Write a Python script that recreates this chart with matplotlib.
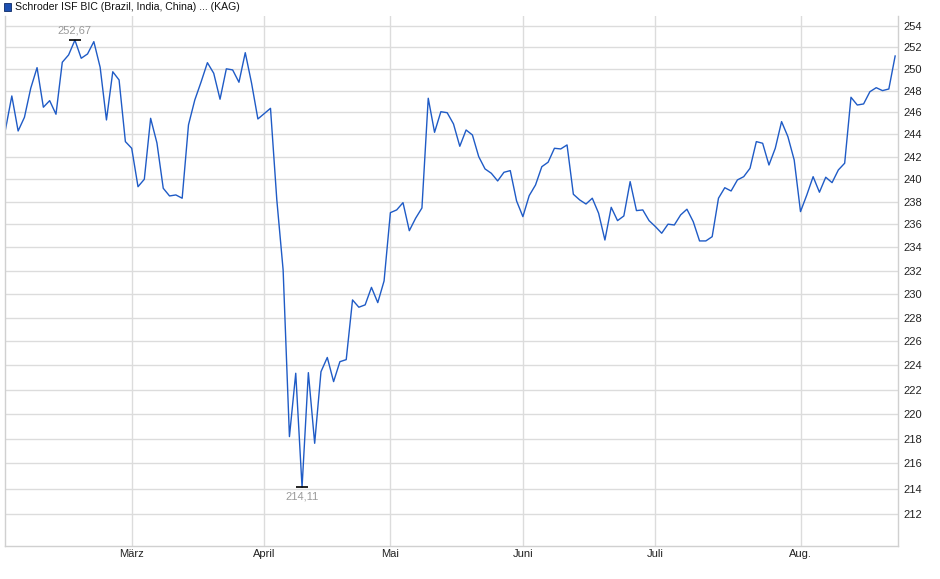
import numpy as np
import matplotlib
matplotlib.use('Agg')
import matplotlib.pyplot as plt
from matplotlib.ticker import FixedLocator, FixedFormatter, NullLocator
from matplotlib.patches import Rectangle

plt.rcParams['font.family'] = ['Liberation Sans', 'DejaVu Sans']

title = 'Schroder ISF BIC (Brazil, India, China) ... (KAG)'

# daily prices, one per trading day (3 Feb - 22 Aug)
prices = [
    244.46, 247.50, 244.31, 245.55, 248.21, 250.11, 246.47, 247.07, 245.83, 250.61,
    251.29, 252.67, 250.98, 251.38, 252.53, 250.14, 245.31, 249.73, 248.97, 243.35,
    242.75, 239.32, 239.98, 245.46, 243.23, 239.18, 238.50, 238.59, 238.30, 244.86,
    247.13, 248.79, 250.57, 249.59, 247.20, 250.00, 249.90, 248.76, 251.50, 248.67,
    245.40, 245.89, 246.37, 238.15, 232.05, 218.16, 223.34, 214.11, 223.39, 217.62,
    223.47, 224.65, 222.65, 224.30, 224.47, 229.49, 228.87, 229.07, 230.56, 229.26,
    231.11, 237.03, 237.27, 237.91, 235.45, 236.54, 237.44, 247.29, 244.19, 246.06,
    245.97, 244.95, 242.93, 244.40, 243.95, 242.00, 240.90, 240.51, 239.83, 240.60,
    240.75, 238.06, 236.68, 238.53, 239.47, 241.10, 241.50, 242.75, 242.69, 243.05,
    238.65, 238.15, 237.79, 238.30, 236.98, 234.64, 237.50, 236.33, 236.74, 239.77,
    237.21, 237.27, 236.33, 235.81, 235.23, 236.02, 235.95, 236.83, 237.33, 236.24,
    234.56, 234.56, 234.93, 238.30, 239.23, 238.94, 239.92, 240.21, 240.96, 243.35,
    243.20, 241.25, 242.75, 245.16, 243.80, 241.70, 237.12, 238.59, 240.21, 238.83,
    240.16, 239.68, 240.81, 241.41, 247.38, 246.67, 246.77, 247.89, 248.26, 247.99,
    248.14, 251.19,
]

# index of first trading day of each month
month_pos = [20, 41, 61, 82, 103, 126]
month_labels = ['März', 'April', 'Mai', 'Juni', 'Juli', 'Aug.']
y_ticks = list(range(212, 255, 2))

x = np.arange(len(prices))

fig = plt.figure(figsize=(9.4, 5.79), dpi=100)
ax = fig.add_axes([5 / 940, 33.3 / 579, 893.3 / 940, 529.7 / 579])

ax.plot(x, prices, color='#1f5bc6', linewidth=1.0)

ax.set_yscale('log')
ax.set_ylim(209.52, 254.94)
ax.set_xlim(-0.08, 141.5)

ax.yaxis.set_major_locator(FixedLocator(y_ticks))
ax.yaxis.set_major_formatter(FixedFormatter([str(v) for v in y_ticks]))
ax.yaxis.set_minor_locator(NullLocator())
ax.yaxis.tick_right()
ax.set_xticks(month_pos)
ax.set_xticklabels(month_labels)

ax.tick_params(axis='y', length=0, pad=4, labelsize=8, labelcolor='#222222')
ax.tick_params(axis='x', length=0, pad=2.5, labelsize=8, labelcolor='#222222')

ax.grid(True, color='#dcdcdc', linewidth=1.0)
ax.set_axisbelow(True)
for s in ax.spines.values():
    s.set_color('#d0d0d0')
    s.set_linewidth(1.0)
ax.spines['top'].set_visible(False)

# high / low markers
i_max = int(np.argmax(prices))
i_min = int(np.argmin(prices))
ax.plot([i_max], [prices[i_max]], marker='_', markersize=9, color='black', mew=1.2)
ax.plot([i_min], [prices[i_min]], marker='_', markersize=9, color='black', mew=1.2)
ax.annotate(f'{prices[i_max]:.2f}'.replace('.', ','), (i_max, prices[i_max]),
            xytext=(0, 3), textcoords='offset points', ha='center', va='bottom',
            fontsize=8, color='#9a9a9a')
ax.annotate(f'{prices[i_min]:.2f}'.replace('.', ','), (i_min, prices[i_min]),
            xytext=(0, -3), textcoords='offset points', ha='center', va='top',
            fontsize=8, color='#9a9a9a')

# legend-like header
fig.patches.append(Rectangle((3.5 / 940, 1 - 10.5 / 579), 7.5 / 940, 7.5 / 579,
                             transform=fig.transFigure, facecolor='#1c4fb0',
                             edgecolor='#0d2a66', linewidth=0.6))
fig.text(15 / 940, 1 - 6.7 / 579, title, fontsize=7.6, va='center', ha='left', color='#111111')

fig.savefig('out.png', dpi=100)
